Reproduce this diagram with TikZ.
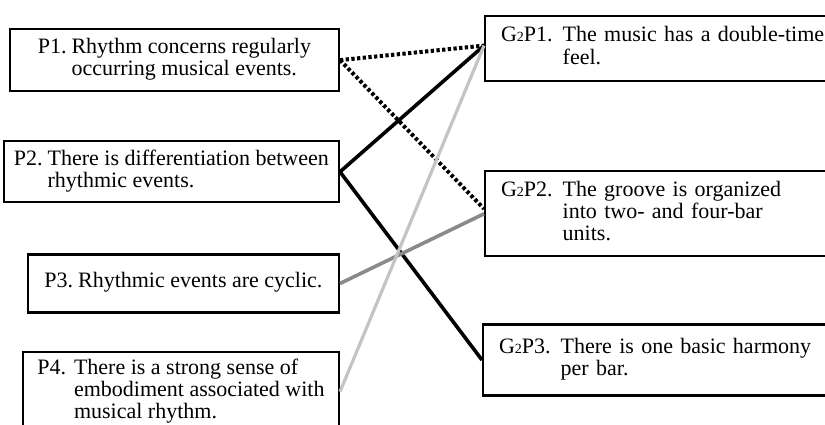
\documentclass[tikz,border=0pt]{standalone}
\usepackage{fontspec}
\setmainfont{Liberation Serif}
\usetikzlibrary{positioning}
\definecolor{midline}{HTML}{8A8A8A}
\definecolor{paleline}{HTML}{C4C4C4}
\newcommand{\gsub}{{\fontsize{14}{14}\selectfont 2}}

\begin{document}
\begin{tikzpicture}[
        x=1pt, y=1pt,
        box/.style={rectangle, draw, line width=2.2pt, inner sep=0pt, align=center, font=\fontsize{22}{22}\selectfont},
        gbox/.style={box, align=left, text width=330pt, inner xsep=16pt},
        link/.style={line width=3.6pt},
        dotlink/.style={line width=4pt, dash pattern=on 3.3pt off 2.4pt},
        graylink/.style={line width=3.6pt, draw=midline},
        palelink/.style={line width=3.2pt, draw=paleline}
    ]
        \path[use as bounding box, clip] (0,0) rectangle (825,-424);

        % left column
        \node[box, minimum width=329pt, minimum height=62pt, anchor=north east] (p1) at (340,-28)
            {\begin{tabular}{@{}l@{\hspace{5pt}}l@{}}P1. & Rhythm concerns regularly\\ & occurring musical events.\end{tabular}};
        \node[box, minimum width=335pt, minimum height=61pt, below=48pt of p1.south east, anchor=north east] (p2)
            {\begin{tabular}{@{}l@{\hspace{5pt}}l@{}}P2. & There is differentiation between\\ & rhythmic events.\end{tabular}};
        \node[box, minimum width=311pt, minimum height=58pt, below=50pt of p2.south east, anchor=north east] (p3)
            {\begin{tabular}{@{}l@{\hspace{5pt}}l@{}}P3. & Rhythmic events are cyclic.\end{tabular}};
        \node[box, minimum width=316pt, minimum height=80pt, below=37pt of p3.south east, anchor=north east] (p4)
            {\begin{tabular}{@{}l@{\hspace{8pt}}l@{}}P4. & There is a strong sense of\\ & embodiment associated with\\ & musical rhythm.\end{tabular}};

        % right column
        \node[gbox, minimum height=65pt, anchor=north west] (g1) at (484,-15)
            {\begin{tabular}{@{}l@{\hspace{10pt}}l@{}}G\gsub P1. & The music has a double-time\\ & feel.\end{tabular}};
        \node[gbox, minimum height=85pt, below=88pt of g1.south west, anchor=north west] (g2)
            {\begin{tabular}{@{}l@{\hspace{10pt}}l@{}}G\gsub P2. & The groove is organized\\ & into two- and four-bar\\ & units.\end{tabular}};
        \node[gbox, minimum height=71pt, below=66pt of g2.south west, anchor=north west, xshift=-2pt] (g3)
            {\begin{tabular}{@{}l@{\hspace{10pt}}l@{}}G\gsub P3. & There is one basic harmony\\ & per bar.\end{tabular}};

        \draw[dotlink] (p1.east) -- ([yshift=3pt]g1.west);
        \draw[dotlink] (p1.east) -- ([yshift=5pt]g2.west);
        \draw[link] (p2.east) -- ([yshift=3pt]g1.west);
        \draw[link] (p2.east) -- (g3.west);
        \draw[graylink] (p3.east) -- (g2.west);
        \draw[palelink] (p4.east) -- ([yshift=3pt]g1.west);
    \end{tikzpicture}
\end{document}
